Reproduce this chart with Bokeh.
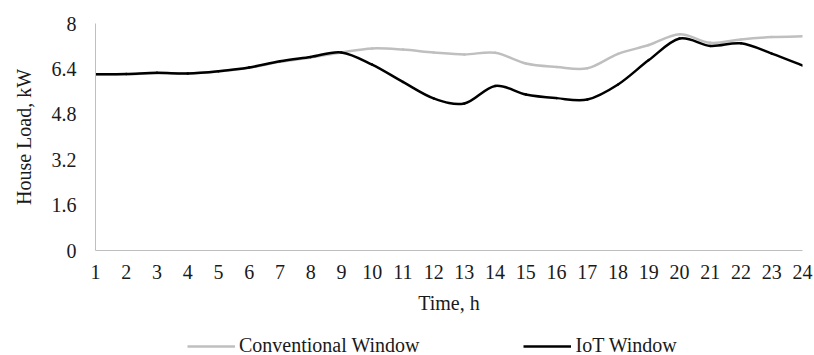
from bokeh.plotting import figure
from bokeh.layouts import column
from bokeh.models import FixedTicker, Range1d, Legend, LegendItem, ColumnDataSource
from bokeh.embed import file_html
from bokeh.resources import INLINE

# Hourly house load (kW) for the two window types
hours = list(range(1, 25))
conventional = [6.20, 6.21, 6.25, 6.24, 6.31, 6.44, 6.65, 6.80, 6.98, 7.12, 7.08, 6.98,
                6.91, 6.97, 6.59, 6.47, 6.42, 6.93, 7.24, 7.62, 7.32, 7.44, 7.52, 7.55]
iot = [6.21, 6.22, 6.26, 6.24, 6.32, 6.45, 6.67, 6.82, 6.98, 6.55, 5.94, 5.36,
       5.18, 5.80, 5.50, 5.37, 5.32, 5.85, 6.71, 7.47, 7.21, 7.30, 6.94, 6.52]
y_ticks = [0, 1.6, 3.2, 4.8, 6.4, 8]
y_tick_labels = ["0", "1.6", "3.2", "4.8", "6.4", "8"]
series_names = ["Conventional Window", "IoT Window"]

FONT = "Liberation Serif"
AXIS_GRAY = "#bfbfbf"
COLORS = ["#bfbfbf", "black"]
LINE_W = 2.5


def smooth_segments(xs, ys):
    """Cubic Bezier segments through the points (Catmull-Rom style smoothing)."""
    n = len(xs)
    d = dict(x0=[], y0=[], x1=[], y1=[], cx0=[], cy0=[], cx1=[], cy1=[])
    for i in range(n - 1):
        xp, yp = (xs[i - 1], ys[i - 1]) if i > 0 else (xs[i], ys[i])
        xn, yn = (xs[i + 2], ys[i + 2]) if i + 2 < n else (xs[i + 1], ys[i + 1])
        d["x0"].append(xs[i]); d["y0"].append(ys[i])
        d["x1"].append(xs[i + 1]); d["y1"].append(ys[i + 1])
        d["cx0"].append(xs[i] + (xs[i + 1] - xp) / 6)
        d["cy0"].append(ys[i] + (ys[i + 1] - yp) / 6)
        d["cx1"].append(xs[i + 1] - (xn - xs[i]) / 6)
        d["cy1"].append(ys[i + 1] - (yn - ys[i]) / 6)
    return ColumnDataSource(d)


# ---- main chart ----
p = figure(width=814, height=320, output_backend="svg", toolbar_location=None,
           x_range=Range1d(1, 24), y_range=Range1d(0, 8),
           min_border_left=95, min_border_right=12, min_border_top=23,
           min_border_bottom=70)
p.outline_line_color = None
p.grid.visible = False
p.background_fill_color = "white"
p.border_fill_color = "white"

for ys, color in zip([conventional, iot], COLORS):
    p.bezier(x0="x0", y0="y0", x1="x1", y1="y1", cx0="cx0", cy0="cy0",
             cx1="cx1", cy1="cy1", source=smooth_segments(hours, ys),
             line_color=color, line_width=LINE_W, line_cap="round")

for ax in (p.xaxis[0], p.yaxis[0]):
    ax.axis_line_color = AXIS_GRAY
    ax.axis_line_width = 1
    ax.major_tick_line_color = None
    ax.minor_tick_line_color = None
    ax.major_tick_out = 0
    ax.major_tick_in = 0
    ax.major_label_text_font = FONT
    ax.major_label_text_font_size = "20px"
    ax.major_label_text_color = "#1a1a1a"
    ax.axis_label_text_font = FONT
    ax.axis_label_text_font_size = "20px"
    ax.axis_label_text_font_style = "normal"
    ax.axis_label_text_color = "#1a1a1a"

p.xaxis.ticker = FixedTicker(ticks=hours)
p.xaxis.axis_label = "Time, h"
p.xaxis.major_label_standoff = 14
p.xaxis.axis_label_standoff = 10

p.yaxis.ticker = FixedTicker(ticks=y_ticks)
p.yaxis.major_label_overrides = {t: s for t, s in zip(y_ticks, y_tick_labels)}
p.yaxis.axis_label = "House Load, kW"
p.yaxis.major_label_standoff = 19
p.yaxis.axis_label_standoff = 14

# ---- legend strip under the chart (its frame shares the chart's left edge) ----
# The series are added here only to key the legend; the strip's ranges keep them out of view.
leg = figure(width=814, height=35, output_backend="svg", toolbar_location=None,
             x_axis_type=None, y_axis_type=None,
             x_range=Range1d(-1, 0), y_range=Range1d(-1, 0),
             min_border=0)
leg.outline_line_color = None
leg.grid.visible = False
leg.border_fill_color = "white"

items = []
for name, ys, color in zip(series_names, [conventional, iot], COLORS):
    r = leg.line(x=hours, y=ys, line_color=color, line_width=LINE_W)
    items.append(LegendItem(label=name, renderers=[r]))

legend = Legend(items=items, orientation="horizontal", location=(92, -2),
                label_text_font=FONT, label_text_font_size="20px",
                label_text_color="#1a1a1a",
                glyph_width=48, label_standoff=4, spacing=104,
                border_line_color=None, background_fill_alpha=0,
                padding=0, margin=0)
leg.add_layout(legend, "center")

layout = column(p, leg, spacing=0)
open("out.html", "w").write(file_html(layout, INLINE))
